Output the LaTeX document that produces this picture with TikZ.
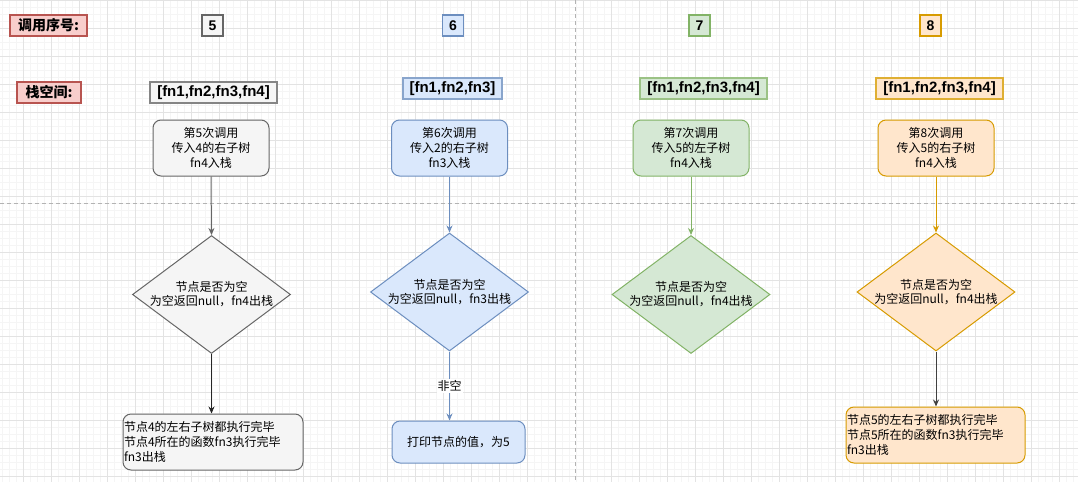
\documentclass[tikz,border=0pt]{standalone}
\usepackage{fontspec}
\setmainfont{Noto Sans CJK SC}
\newfontfamily\lat{Liberation Sans}
\usetikzlibrary{arrows.meta,shapes.geometric}
\definecolor{grayF}{HTML}{F5F5F5}
\definecolor{grayS}{HTML}{666666}
\definecolor{blueF}{HTML}{DAE8FC}
\definecolor{blueS}{HTML}{6C8EBF}
\definecolor{greenF}{HTML}{D5E8D4}
\definecolor{greenS}{HTML}{82B366}
\definecolor{orangeF}{HTML}{FFE6CC}
\definecolor{orangeS}{HTML}{D79B00}
\definecolor{pinkF}{HTML}{F8CECC}
\definecolor{pinkS}{HTML}{B85450}
\definecolor{gridMinor}{HTML}{F5F5F5}
\definecolor{gridMajor}{HTML}{E3E3E3}
\definecolor{sepC}{HTML}{B3B3B3}
\begin{document}
\begin{tikzpicture}[x=1pt,y=-1pt,
  hdr/.style={draw=pinkS, fill=pinkF, line width=1.3pt, inner sep=0pt, minimum height=21pt, font=\fontsize{14}{16}\selectfont\bfseries},
  num/.style={line width=1.3pt, inner sep=0pt, minimum width=21pt, minimum height=21pt, font=\lat\fontsize{14}{16}\selectfont\bfseries},
  stk/.style={line width=1.3pt, inner sep=0pt, minimum height=21pt, font=\lat\fontsize{15}{17}\selectfont\bfseries},
  proc/.style={rounded corners=8pt, line width=1pt, minimum width=116pt, minimum height=56pt, align=center, inner sep=0pt, font=\fontsize{12}{15}\selectfont},
  dia/.style={diamond, line width=1pt, minimum width=158pt, minimum height=118pt, inner sep=0pt},
  diatext/.style={align=center, inner sep=0pt, font=\fontsize{12}{14}\selectfont},
  res/.style={rounded corners=8pt, line width=1pt, inner sep=1pt, font=\fontsize{12}{15}\selectfont},
  arr/.style={-{Stealth[length=7pt,width=6pt]}, line width=1pt},
  sep/.style={draw=sepC, line width=1pt, dash pattern=on 4pt off 3pt}
]
\useasboundingbox (0,0) rectangle (1078,482);
\fill[white] (0,0) rectangle (1078,482);
% grid
\foreach \i in {0,...,154} \draw[gridMinor, line width=0.6pt] (2.3+7*\i,0) -- (2.3+7*\i,482);
\foreach \j in {0,...,69} \draw[gridMinor, line width=0.6pt] (0,7*\j) -- (1078,7*\j);
\foreach \i in {0,...,38} \draw[gridMajor, line width=0.8pt] (23.3+28*\i,0) -- (23.3+28*\i,482);
\foreach \j in {0,...,17} \draw[gridMajor, line width=0.8pt] (0,28*\j) -- (1078,28*\j);
% separators
\coordinate (hL) at (0,203.5);
\coordinate (hR) at (1078,203.5);
\coordinate (vT) at (575.5,0);
\coordinate (vB) at (575.5,482);
\draw[sep] (hL) -- (hR);
\draw[sep] (vT) -- (vB);
% headers
\node[hdr, minimum width=77pt] (h1) at (48.5,25.5) {调用序号:};
\node[hdr, minimum width=64pt] (h2) at (49,92.5) {栈空间:};
% numbers
\node[num, draw=grayS, fill=grayF] (n5) at (212.5,25.5) {5};
\node[num, draw=blueS, fill=blueF] (n6) at (453,25.5) {6};
\node[num, draw=greenS, fill=greenF] (n7) at (699.5,25.5) {7};
\node[num, draw=orangeS, fill=orangeF] (n8) at (930.5,25.5) {8};
% stacks
\node[stk, draw=grayS!80, fill=grayF, minimum width=127pt] (s5) at (213.5,92.5) {[fn1,fn2,fn3,fn4]};
\node[stk, draw=blueS!80, fill=blueF, minimum width=99pt] (s6) at (452.5,88.5) {[fn1,fn2,fn3]};
\node[stk, draw=greenS!80, fill=greenF, minimum width=127pt] (s7) at (703.5,88.5) {[fn1,fn2,fn3,fn4]};
\node[stk, draw=orangeS!80, fill=orangeF, minimum width=127pt] (s8) at (939.5,88.5) {[fn1,fn2,fn3,fn4]};
% process boxes
\node[proc, draw=grayS, fill=grayF] (p5) at (211,148) {第5次调用\\传入4的右子树\\fn4入栈};
\node[proc, draw=blueS, fill=blueF] (p6) at (449.5,148) {第6次调用\\传入2的右子树\\fn3入栈};
\node[proc, draw=greenS, fill=greenF] (p7) at (691,148) {第7次调用\\传入5的左子树\\fn4入栈};
\node[proc, draw=orangeS, fill=orangeF] (p8) at (936,148) {第8次调用\\传入5的右子树\\fn4入栈};
% diamonds
\node[dia, draw=grayS, fill=grayF] (d5) at (211.5,294.5) {};
\node[diatext] (t5) at (d5.center) {节点是否为空\\为空返回null，fn4出栈};
\node[dia, draw=blueS, fill=blueF] (d6) at (449.5,292) {};
\node[diatext] (t6) at (d6.center) {节点是否为空\\为空返回null，fn3出栈};
\node[dia, draw=greenS, fill=greenF] (d7) at (691,294.5) {};
\node[diatext] (t7) at (d7.center) {节点是否为空\\为空返回null，fn4出栈};
\node[dia, draw=orangeS, fill=orangeF] (d8) at (936,292) {};
\node[diatext] (t8) at (d8.center) {节点是否为空\\为空返回null，fn4出栈};
% results
\node[res, draw=grayS, fill=grayF, minimum width=180pt, minimum height=56pt, text width=178pt, align=left] (r5) at (213,442) {节点4的左右子树都执行完毕\\节点4所在的函数fn3执行完毕\\fn3出栈};
\node[res, draw=blueS, fill=blueF, minimum width=133pt, minimum height=42pt, align=center] (r6) at (458.5,442) {打印节点的值，为5};
\node[res, draw=orangeS, fill=orangeF, minimum width=179pt, minimum height=56pt, text width=177pt, align=left] (r8) at (935.5,435) {节点5的左右子树都执行完毕\\节点5所在的函数fn3执行完毕\\fn3出栈};
% arrows
\draw[arr, draw=grayS] (p5.south) -- (d5.north);
\draw[arr, draw=black!85] (d5.south) -- (d5.south |- r5.north);
\draw[arr, draw=blueS] (p6.south) -- (d6.north);
\draw[arr, draw=blueS] (d6.south) -- node[fill=white, inner sep=1pt, font=\fontsize{12}{14}\selectfont] (l6) {非空} (d6.south |- r6.north);
\draw[arr, draw=greenS] (p7.south) -- (d7.north);
\draw[arr, draw=orangeS] (p8.south) -- (d8.north);
\draw[arr, draw=black!75] (d8.south) -- (d8.south |- r8.north);
\end{tikzpicture}
\end{document}
